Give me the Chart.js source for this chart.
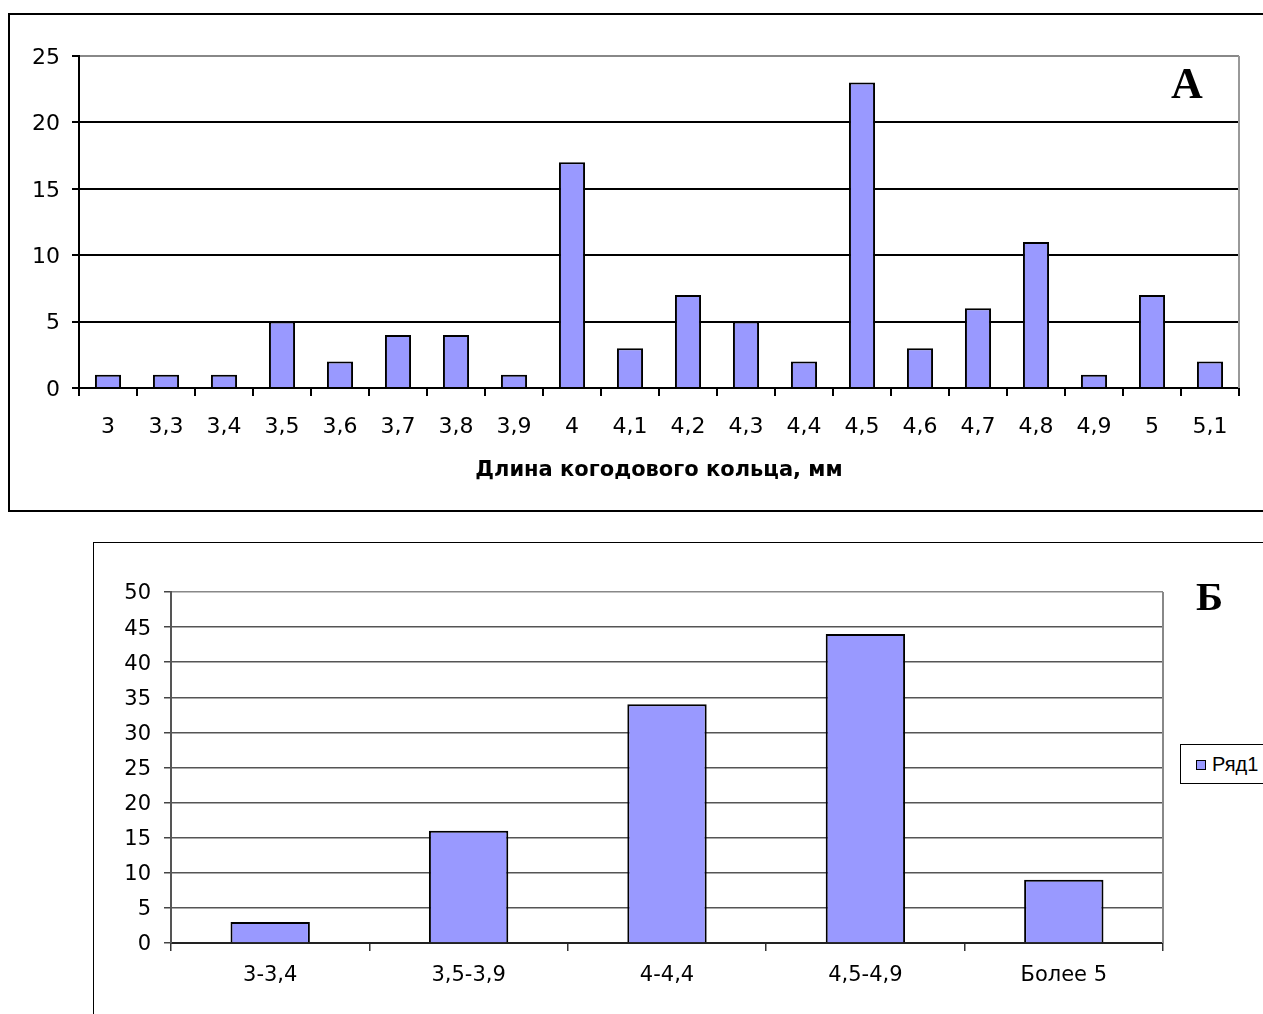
<!DOCTYPE html>
<html lang="ru">
<head>
<meta charset="utf-8">
<script src="https://cdn.jsdelivr.net/npm/chart.js@4.4.1/dist/chart.umd.min.js"></script>
<style>
  html, body { margin: 0; padding: 0; background: #fff; width: 1263px; height: 1014px; overflow: hidden; }
  .frame { position: absolute; box-sizing: border-box; }
  #frameA { left: 8px; top: 13px; width: 1300px; height: 499px; border: 2px solid #000; }
  #frameB { left: 93px; top: 542px; width: 1300px; height: 600px; border: 1px solid #000; }
  canvas { position: absolute; left: 0; }
  #chartA { top: 0; }
  #chartB { top: 530px; }
  .letter { position: absolute; font-family: "Liberation Serif", serif; font-weight: bold; line-height: 1; color: #000; }
  #letterA { left: 1171px; top: 62px; font-size: 44px; }
  #letterB { left: 1196px; top: 576px; font-size: 41px; }
  #legendB { position: absolute; left: 1180px; top: 744px; width: 120px; height: 40px; box-sizing: border-box;
             border: 1px solid #000; background: #fff; font-family: "Liberation Sans", Arial, sans-serif; font-size: 20px; }
  #legendB .swatch { position: absolute; left: 15px; top: 15px; width: 10px; height: 10px; box-sizing: border-box;
                     background: #9999ff; border: 1px solid #000; }
  #legendB .name { position: absolute; left: 31px; top: 8px; line-height: 22px; }
</style>
</head>
<body>
<div class="frame" id="frameA"></div>
<div class="frame" id="frameB"></div>
<canvas id="chartA" width="1263" height="520"></canvas>
<canvas id="chartB" width="1263" height="484"></canvas>
<div class="letter" id="letterA">А</div>
<div class="letter" id="letterB">Б</div>
<div id="legendB"><span class="swatch"></span><span class="name">Ряд1</span></div>
<script>
// А: counts per ring length
const lengthLabels = ["3", "3,3", "3,4", "3,5", "3,6", "3,7", "3,8", "3,9", "4", "4,1",
                      "4,2", "4,3", "4,4", "4,5", "4,6", "4,7", "4,8", "4,9", "5", "5,1"];
const lengthCounts = [1, 1, 1, 5, 2, 4, 4, 1, 17, 3, 7, 5, 2, 23, 3, 6, 11, 1, 7, 2];
const lengthAxisTitle = "Длина когодового кольца, мм";

// Б: counts per length range
const rangeLabels = ["3-3,4", "3,5-3,9", "4-4,4", "4,5-4,9", "Более 5"];
const rangeCounts = [3, 16, 34, 44, 9];
const seriesName = "Ряд1";

const barFill = "#9999ff";
const fontFamily = "'DejaVu Sans', sans-serif";

// grey right edge of the plot area
const plotEdge = {
  id: "plotEdge",
  afterDraw(chart, args, opts) {
    const { ctx, chartArea: a } = chart;
    ctx.save();
    ctx.strokeStyle = opts.color;
    ctx.lineWidth = opts.width;
    ctx.beginPath();
    ctx.moveTo(a.right, a.top);
    ctx.lineTo(a.right, a.bottom);
    ctx.stroke();
    ctx.restore();
  }
};

new Chart(document.getElementById("chartA"), {
  type: "bar",
  data: {
    labels: lengthLabels,
    datasets: [{
      data: lengthCounts,
      backgroundColor: barFill,
      borderColor: "#000",
      borderWidth: 2,
      barPercentage: 0.45,
      categoryPercentage: 1
    }]
  },
  plugins: [plotEdge],
  options: {
    responsive: false,
    animation: false,
    layout: { padding: { top: 56, right: 24, left: 0, bottom: 0 } },
    plugins: {
      legend: { display: false },
      tooltip: { enabled: false },
      plotEdge: { color: "#999", width: 2 }
    },
    scales: {
      x: {
        offset: true,
        grid: { offset: true, drawOnChartArea: false, tickLength: 8, color: "#000", lineWidth: 2 },
        border: { color: "#000", width: 2 },
        ticks: { color: "#000", padding: 18, maxRotation: 0, autoSkip: false, font: { family: fontFamily, size: 22 } },
        title: { display: true, text: lengthAxisTitle, color: "#000", padding: { top: 0, bottom: 37 },
                 font: { family: fontFamily, size: 21, weight: "bold" } },
        afterFit(scale) { scale.height = 132; }
      },
      y: {
        min: 0, max: 25,
        grid: {
          tickLength: 7, lineWidth: 2, tickColor: "#000",
          color: c => c.tick && c.tick.value === 25 ? "#888" : "#000"
        },
        border: { color: "#000", width: 2 },
        ticks: { stepSize: 5, color: "#000", padding: 12, labelOffset: 2, font: { family: fontFamily, size: 22 } },
        afterFit(scale) { scale.width = 79; }
      }
    }
  }
});

new Chart(document.getElementById("chartB"), {
  type: "bar",
  data: {
    labels: rangeLabels,
    datasets: [{
      label: seriesName,
      data: rangeCounts,
      backgroundColor: barFill,
      borderColor: "#000",
      borderWidth: 2,
      barPercentage: 0.4,
      categoryPercentage: 1
    }]
  },
  plugins: [plotEdge],
  options: {
    responsive: false,
    animation: false,
    layout: { padding: { top: 62, right: 100, left: 0, bottom: 0 } },
    plugins: {
      legend: { display: false },
      tooltip: { enabled: false },
      plotEdge: { color: "#888", width: 2 }
    },
    scales: {
      x: {
        offset: true,
        grid: { offset: true, drawOnChartArea: false, tickLength: 8, color: "#333", lineWidth: 1.5 },
        border: { color: "#222", width: 2 },
        ticks: { color: "#000", padding: 12, maxRotation: 0, autoSkip: false, font: { family: fontFamily, size: 21 } },
        afterFit(scale) { scale.height = 71; }
      },
      y: {
        min: 0, max: 50,
        grid: {
          tickLength: 7, lineWidth: 1.5, tickColor: "#444",
          color: c => c.tick && c.tick.value === 50 ? "#888" : "#555"
        },
        border: { color: "#555", width: 2 },
        ticks: { stepSize: 5, color: "#000", padding: 13, labelOffset: 2, font: { family: fontFamily, size: 21 } },
        afterFit(scale) { scale.width = 171; }
      }
    }
  }
});
</script>
</body>
</html>
